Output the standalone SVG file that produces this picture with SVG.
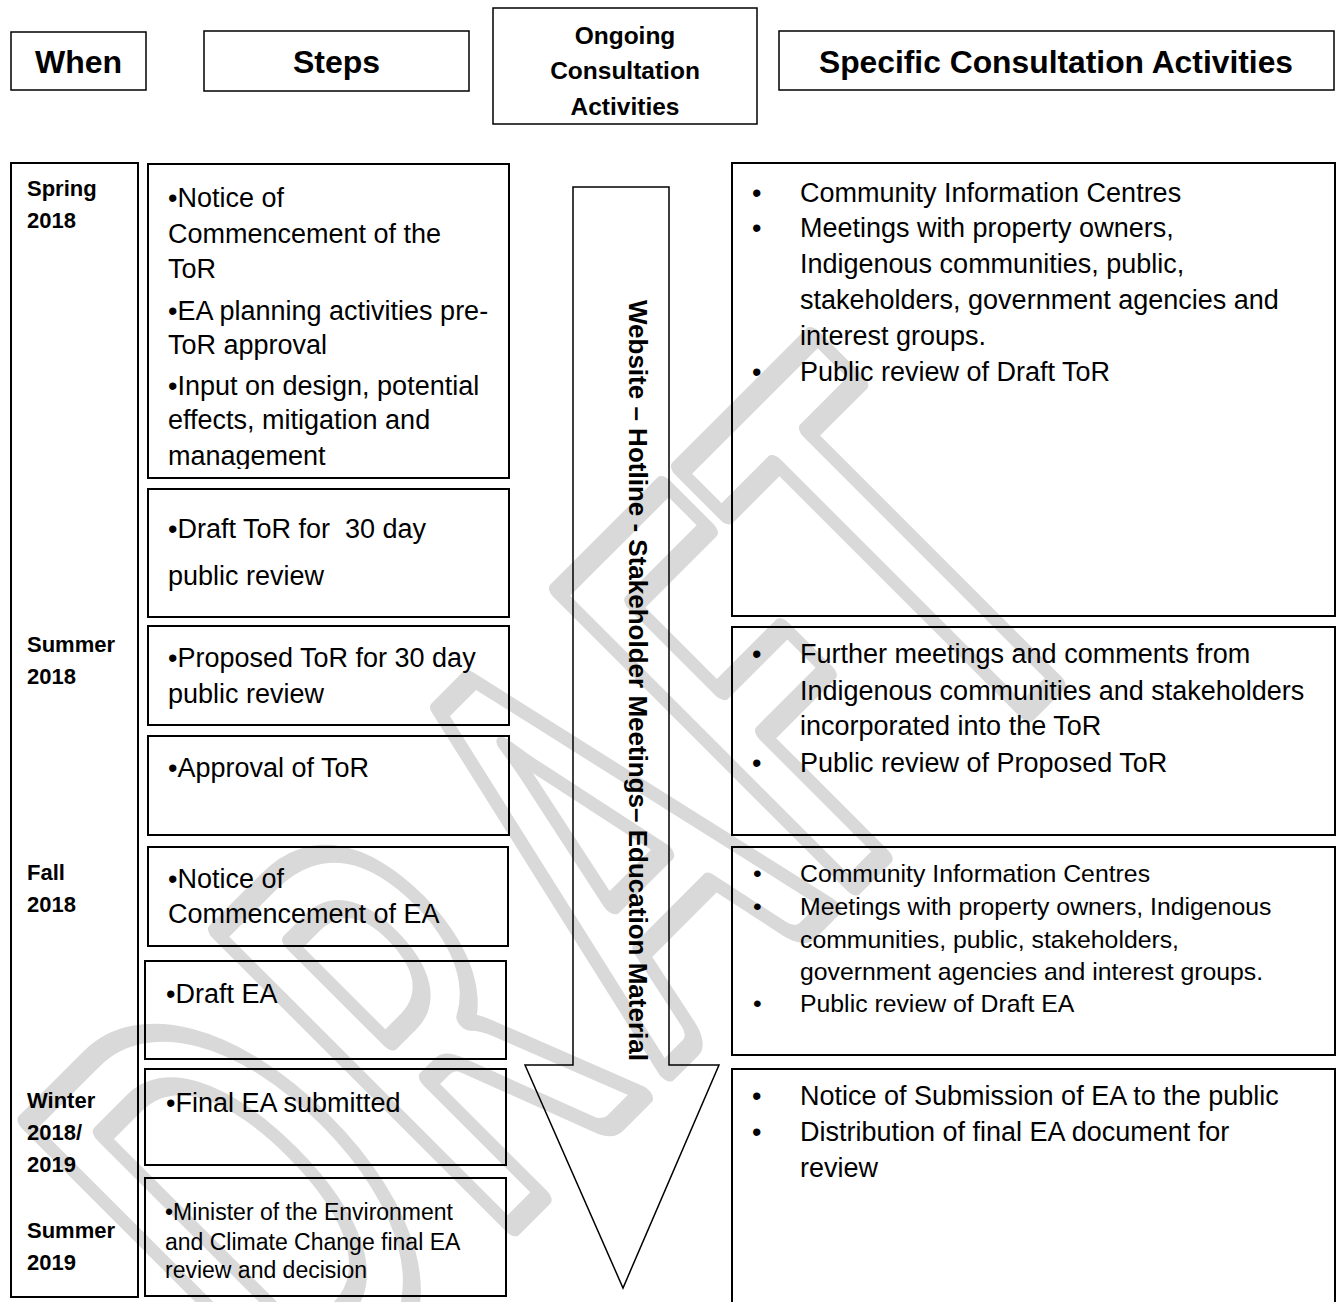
<svg xmlns="http://www.w3.org/2000/svg" width="1338" height="1302" viewBox="0 0 1338 1302">
<defs>
<style>
.box{fill:none;stroke:#000;stroke-width:2}
.hbox{fill:none;stroke:#000;stroke-width:1.5}
.hd{font-family:"Liberation Sans",Arial,sans-serif;font-weight:bold;fill:#000}
.when{font-family:"Liberation Sans",Arial,sans-serif;font-weight:bold;font-size:22px;fill:#000}
.st{font-family:"Liberation Sans",Arial,sans-serif;font-size:27px;fill:#000}
.sm{font-family:"Liberation Sans",Arial,sans-serif;font-size:23px;fill:#000}
.ra{font-family:"Liberation Sans",Arial,sans-serif;font-size:27px;fill:#000}
.rb{font-family:"Liberation Sans",Arial,sans-serif;font-size:24.8px;fill:#000}
.wm{font-family:Lato,"Liberation Sans",sans-serif;font-weight:bold;fill:none;stroke:#d9d9d9;stroke-width:22;stroke-linejoin:round}
</style>
<clipPath id="clip1"><rect x="148" y="164" width="361" height="305"/></clipPath>
</defs>
<rect width="1338" height="1302" fill="#fff"/>
<g id="watermark" transform="translate(232.7,1505.6) rotate(-45) scale(0.58,1)">
<text class="wm" font-size="575" text-anchor="middle" vector-effect="non-scaling-stroke"><tspan x="386" y="0">D</tspan><tspan x="817" y="0">R</tspan><tspan x="1259" y="0">A</tspan><tspan x="1626" y="0">F</tspan><tspan x="1971" y="0">T</tspan></text>
</g>
<g id="headers">
<g id="h-when"><rect class="hbox" x="11" y="32" width="135" height="58"/><text class="hd" font-size="32" x="78.5" y="73" text-anchor="middle">When</text></g>
<g id="h-steps"><rect class="hbox" x="204" y="31" width="265" height="60"/><text class="hd" font-size="32" x="336.5" y="73" text-anchor="middle">Steps</text></g>
<g id="h-ongoing"><rect class="hbox" x="493" y="8" width="264" height="116"/><text class="hd" font-size="24.5" text-anchor="middle"><tspan x="625" y="44">Ongoing</tspan><tspan x="625" y="79">Consultation</tspan><tspan x="625" y="115">Activities</tspan></text></g>
<g id="h-specific"><rect class="hbox" x="779" y="31" width="555" height="59"/><text class="hd" font-size="31.8" x="1056" y="73" text-anchor="middle">Specific Consultation Activities</text></g>
</g>
<g id="when-col">
<rect class="box" x="11" y="163" width="127" height="1134"/>
<text class="when"><tspan x="27" y="196">Spring</tspan><tspan x="27" y="228">2018</tspan></text>
<text class="when"><tspan x="27" y="652">Summer</tspan><tspan x="27" y="684">2018</tspan></text>
<text class="when"><tspan x="27" y="880">Fall</tspan><tspan x="27" y="912">2018</tspan></text>
<text class="when"><tspan x="27" y="1108">Winter</tspan><tspan x="27" y="1140">2018/</tspan><tspan x="27" y="1172">2019</tspan></text>
<text class="when"><tspan x="27" y="1238">Summer</tspan><tspan x="27" y="1270">2019</tspan></text>
</g>
<g id="step1"><rect class="box" x="148" y="164" width="361" height="314"/>
<g clip-path="url(#clip1)"><text class="st"><tspan x="168" y="207">•Notice of</tspan><tspan x="168" y="243">Commencement of the</tspan><tspan x="168" y="278">ToR</tspan><tspan x="168" y="320">•EA planning activities pre-</tspan><tspan x="168" y="354">ToR approval</tspan><tspan x="168" y="395">•Input on design, potential</tspan><tspan x="168" y="429">effects, mitigation and</tspan><tspan x="168" y="465">management</tspan></text></g></g>
<g id="step2"><rect class="box" x="148" y="489" width="361" height="128"/><text class="st"><tspan x="168" y="538">•Draft ToR for&#160; 30 day</tspan><tspan x="168" y="585">public review</tspan></text></g>
<g id="step3"><rect class="box" x="148" y="626" width="361" height="99"/><text class="st"><tspan x="168" y="667">•Proposed ToR for 30 day</tspan><tspan x="168" y="703">public review</tspan></text></g>
<g id="step4"><rect class="box" x="148" y="736" width="361" height="99"/><text class="st"><tspan x="168" y="777">•Approval of ToR</tspan></text></g>
<g id="step5"><rect class="box" x="148" y="847" width="360" height="99"/><text class="st"><tspan x="168" y="888">•Notice of</tspan><tspan x="168" y="923">Commencement of EA</tspan></text></g>
<g id="step6"><rect class="box" x="145" y="961" width="361" height="98"/><text class="st"><tspan x="166" y="1003">•Draft EA</tspan></text></g>
<g id="step7"><rect class="box" x="145" y="1069" width="361" height="96"/><text class="st"><tspan x="166" y="1112">•Final EA submitted</tspan></text></g>
<g id="step8"><rect class="box" x="145" y="1178" width="361" height="118"/><text class="sm"><tspan x="165" y="1220">•Minister of the Environment</tspan><tspan x="165" y="1250">and Climate Change final EA</tspan><tspan x="165" y="1278">review and decision</tspan></text></g>
<g id="ongoing-arrow">
<polygon class="hbox" points="573,187 669,187 669,1065 719,1065 623,1288 525,1065 573,1065"/>
<text class="hd" font-size="26" transform="translate(629,300) rotate(90)">Website – Hotline - Stakeholder Meetings– Education Material</text>
</g>
<g id="act1"><rect class="box" x="732" y="163" width="603" height="453"/>
<text class="ra"><tspan x="752" y="202">•</tspan><tspan x="800" y="202">Community Information Centres</tspan><tspan x="752" y="237">•</tspan><tspan x="800" y="237">Meetings with property owners,</tspan><tspan x="800" y="273">Indigenous communities, public,</tspan><tspan x="800" y="309">stakeholders, government agencies and</tspan><tspan x="800" y="345">interest groups.</tspan><tspan x="752" y="381">•</tspan><tspan x="800" y="381">Public review of Draft ToR</tspan></text></g>
<g id="act2"><rect class="box" x="732" y="627" width="603" height="208"/>
<text class="ra"><tspan x="752" y="663">•</tspan><tspan x="800" y="663">Further meetings and comments from</tspan><tspan x="800" y="700">Indigenous communities and stakeholders</tspan><tspan x="800" y="735">incorporated into the ToR</tspan><tspan x="752" y="772">•</tspan><tspan x="800" y="772">Public review of Proposed ToR</tspan></text></g>
<g id="act3"><rect class="box" x="732" y="847" width="603" height="208"/>
<text class="rb"><tspan x="753" y="882">•</tspan><tspan x="800" y="882">Community Information Centres</tspan><tspan x="753" y="915">•</tspan><tspan x="800" y="915">Meetings with property owners, Indigenous</tspan><tspan x="800" y="948">communities, public, stakeholders,</tspan><tspan x="800" y="980">government agencies and interest groups.</tspan><tspan x="753" y="1012">•</tspan><tspan x="800" y="1012">Public review of Draft EA</tspan></text></g>
<g id="act4"><path class="box" d="M732,1303 V1069 H1335 V1303"/>
<text class="ra"><tspan x="752" y="1105">•</tspan><tspan x="800" y="1105">Notice of Submission of EA to the public</tspan><tspan x="752" y="1141">•</tspan><tspan x="800" y="1141">Distribution of final EA document for</tspan><tspan x="800" y="1177">review</tspan></text></g>
</svg>
